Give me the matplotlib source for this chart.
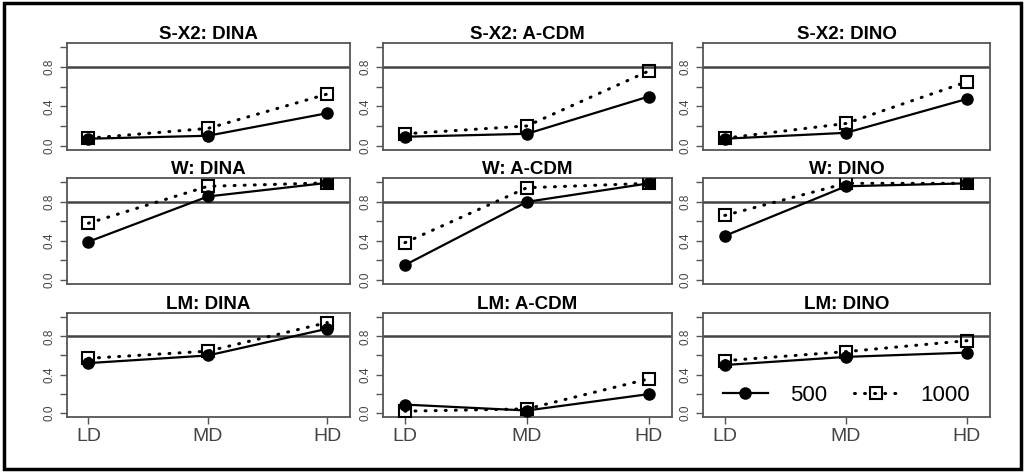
import matplotlib
matplotlib.use("Agg")
import matplotlib.pyplot as plt
from matplotlib.patches import Rectangle

plt.rcParams['font.family'] = ['Liberation Sans', 'DejaVu Sans']

conds = ["LD", "MD", "HD"]
stats = ["S-X2", "W", "LM"]
models = ["DINA", "A-CDM", "DINO"]

# rows = statistic, cols = model
n500 = {
    ("S-X2", "DINA"): [0.07, 0.10, 0.33],
    ("S-X2", "A-CDM"): [0.09, 0.12, 0.50],
    ("S-X2", "DINO"): [0.07, 0.13, 0.475],
    ("W", "DINA"): [0.39, 0.855, 0.995],
    ("W", "A-CDM"): [0.15, 0.80, 0.99],
    ("W", "DINO"): [0.45, 0.96, 0.99],
    ("LM", "DINA"): [0.52, 0.60, 0.88],
    ("LM", "A-CDM"): [0.085, 0.023, 0.195],
    ("LM", "DINO"): [0.50, 0.585, 0.63],
}
n1000 = {
    ("S-X2", "DINA"): [0.075, 0.175, 0.525],
    ("S-X2", "A-CDM"): [0.12, 0.20, 0.76],
    ("S-X2", "DINO"): [0.075, 0.225, 0.65],
    ("W", "DINA"): [0.58, 0.96, 0.995],
    ("W", "A-CDM"): [0.38, 0.945, 0.99],
    ("W", "DINO"): [0.66, 0.99, 0.99],
    ("LM", "DINA"): [0.57, 0.645, 0.945],
    ("LM", "A-CDM"): [0.016, 0.04, 0.355],
    ("LM", "DINO"): [0.545, 0.64, 0.755],
}
ref_line = 0.8

W, H = 1025, 472
fig = plt.figure(figsize=(W / 100, H / 100), dpi=100)
fig.patches.append(Rectangle((4 / W, 3 / H), 1 - 8 / W, 1 - 6 / H,
                             transform=fig.transFigure, fill=False,
                             edgecolor="black", linewidth=2.5))

col_l = [67, 383, 703]
col_r = [350, 672, 990]
row_t = [43, 178, 313]
row_b = [150, 284, 417]

x = [1, 2, 3]
gray = "#555555"
for i, s in enumerate(stats):
    for j, m in enumerate(models):
        ax = fig.add_axes([col_l[j] / W, 1 - row_b[i] / H,
                           (col_r[j] - col_l[j]) / W, (row_b[i] - row_t[i]) / H])
        ax.axhline(ref_line, color="#444444", lw=1.8, zorder=1)
        ax.plot(x, n500[(s, m)], color="black", lw=1.6, marker="o",
                ms=8, label="500", zorder=3)
        ax.plot(x, n1000[(s, m)], color="black", lw=2.2, ls=(0, (0.3, 3.0)),
                dash_capstyle="round", marker="s", ms=8.5, mfc="none",
                mew=1.5, label="1000", zorder=4)
        ax.set_xlim(0.82, 3.19)
        ax.set_ylim(-0.045, 1.045)
        ax.set_yticks([0, 0.2, 0.4, 0.6, 0.8, 1.0])
        ax.set_yticklabels(["0.0", "", "0.4", "", "0.8", ""], rotation=90,
                           va="center", fontsize=8.5, color="#444444")
        ax.set_xticks(x)
        if i == 2:
            ax.set_xticklabels(conds, fontsize=14, color="#444444")
        else:
            ax.tick_params(axis="x", bottom=False, labelbottom=False)
        ax.tick_params(direction="out", length=5, width=1.0, color=gray, pad=3)
        for sp in ax.spines.values():
            sp.set_color(gray)
            sp.set_linewidth(1.3)
        ax.set_title(f"{s}: {m}", fontsize=13.5, fontweight="bold", pad=3)
        if i == 2 and j == 2:
            ax.legend(loc="center", bbox_to_anchor=(0.5, 0.21), ncol=2,
                      frameon=False, fontsize=16, handlelength=2.0,
                      columnspacing=1.2, handletextpad=1.0, borderpad=0)

fig.savefig("out.png", dpi=100)
